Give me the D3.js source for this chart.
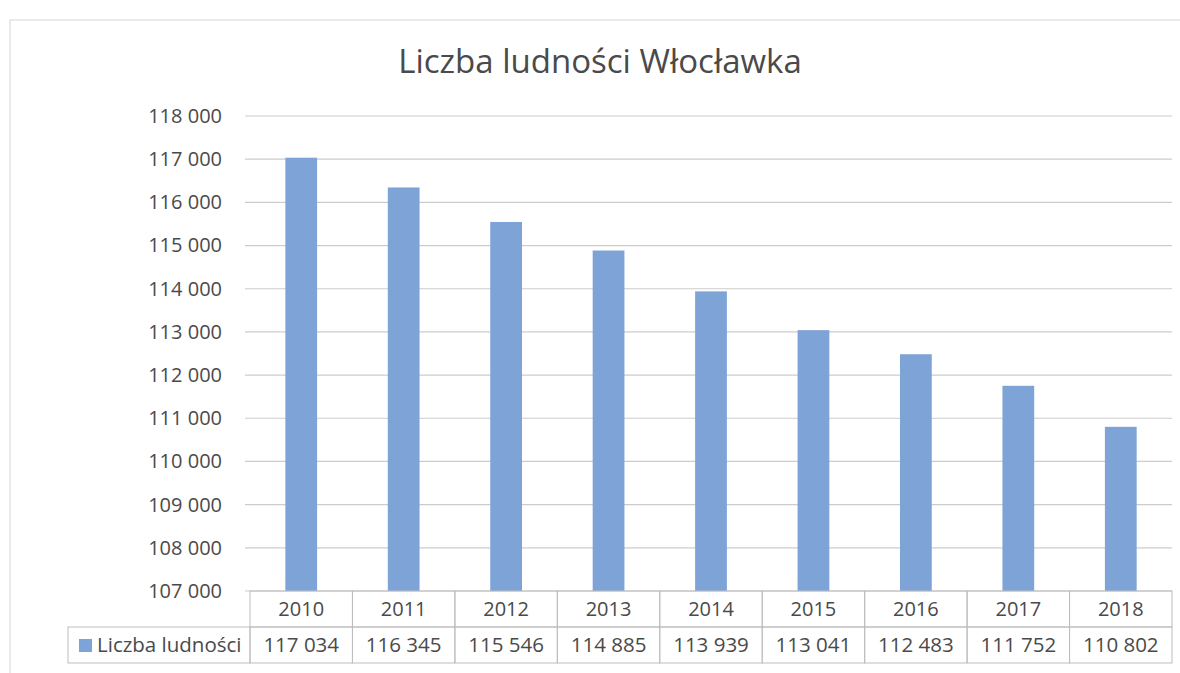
<!DOCTYPE html>
<html>
<head>
<meta charset="utf-8">
<script src="https://cdn.jsdelivr.net/npm/d3@7"></script>
<style>
  body { margin: 0; background: #fff; }
  text { font-family: "Open Sans", "Noto Sans", sans-serif; fill: #4a4a4a; }
</style>
</head>
<body>
<div id="chart"></div>
<script>
const title = "Liczba ludności Włocławka";
const seriesName = "Liczba ludności";
const years = ["2010", "2011", "2012", "2013", "2014", "2015", "2016", "2017", "2018"];
const population = [117034, 116345, 115546, 114885, 113939, 113041, 112483, 111752, 110802];
const yTicks = [107000, 108000, 109000, 110000, 111000, 112000, 113000, 114000, 115000, 116000, 117000, 118000];

const width = 1180, height = 673;
const plot = { left: 250, right: 1172, top: 116, bottom: 591 };
const rowH = 36;
const legendLeft = 68;
const barColor = "#7ea3d6";
const gridColor = "#cccccc";

const fmt = d3.formatLocale({ decimal: ",", thousands: " ", grouping: [3], currency: ["", ""] }).format(",d");

const svg = d3.select("#chart").append("svg")
    .attr("width", width)
    .attr("height", height);

// chart frame
svg.append("rect")
    .attr("x", 10).attr("y", 20)
    .attr("width", 1190).attr("height", 700)
    .attr("fill", "none")
    .attr("stroke", "#d6d6d6");

svg.append("text")
    .attr("x", 600).attr("y", 73)
    .attr("text-anchor", "middle")
    .style("font-size", "33px")
    .text(title);

const x = d3.scaleBand()
    .domain(years)
    .range([plot.left, plot.right])
    .paddingInner(0.69)
    .paddingOuter(0.345);

const y = d3.scaleLinear()
    .domain([107000, 118000])
    .range([plot.bottom, plot.top]);

// gridlines
svg.append("g")
    .selectAll("line")
    .data(yTicks)
    .enter()
    .append("line")
    .attr("x1", plot.left - 5)
    .attr("x2", plot.right)
    .attr("y1", d => y(d))
    .attr("y2", d => y(d))
    .attr("stroke", gridColor)
    .attr("stroke-width", 1.2);

// y axis labels
const yAxis = svg.append("g")
    .attr("transform", `translate(${plot.left - 28},0)`)
    .call(d3.axisLeft(y).tickValues(yTicks).tickFormat(fmt).tickSize(0).tickPadding(0));
yAxis.select(".domain").remove();
yAxis.selectAll("text")
    .style("font-size", "20px")
    .attr("fill", "#4a4a4a");

// bars
svg.append("g")
    .selectAll("rect")
    .data(years)
    .enter()
    .append("rect")
    .attr("x", d => x(d))
    .attr("y", (d, i) => y(population[i]))
    .attr("width", x.bandwidth())
    .attr("height", (d, i) => y(107000) - y(population[i]))
    .attr("fill", barColor);

// data table
const colStep = x.step();
const colLeft = d => x(d) - x.step() * x.paddingInner() / 2;
const table = svg.append("g");
const lineColor = "#bdbdbd";

table.selectAll(".cell-h")
    .data(years)
    .enter()
    .append("rect")
    .attr("x", d => colLeft(d))
    .attr("y", plot.bottom)
    .attr("width", colStep)
    .attr("height", rowH)
    .attr("fill", "none")
    .attr("stroke", lineColor);

table.selectAll(".cell-v")
    .data(years)
    .enter()
    .append("rect")
    .attr("x", d => colLeft(d))
    .attr("y", plot.bottom + rowH)
    .attr("width", colStep)
    .attr("height", rowH)
    .attr("fill", "none")
    .attr("stroke", lineColor);

table.append("rect")
    .attr("x", legendLeft)
    .attr("y", plot.bottom + rowH)
    .attr("width", plot.left - legendLeft)
    .attr("height", rowH)
    .attr("fill", "none")
    .attr("stroke", lineColor);

table.selectAll(".year")
    .data(years)
    .enter()
    .append("text")
    .attr("x", d => x(d) + x.bandwidth() / 2)
    .attr("y", plot.bottom + rowH / 2 + 7)
    .attr("text-anchor", "middle")
    .style("font-size", "20px")
    .text(d => d);

table.selectAll(".val")
    .data(population)
    .enter()
    .append("text")
    .attr("x", (d, i) => x(years[i]) + x.bandwidth() / 2)
    .attr("y", plot.bottom + rowH * 1.5 + 7)
    .attr("text-anchor", "middle")
    .style("font-size", "20.5px")
    .text(d => fmt(d));

table.append("rect")
    .attr("x", legendLeft + 11)
    .attr("y", plot.bottom + rowH * 1.5 - 6)
    .attr("width", 13)
    .attr("height", 13)
    .attr("fill", barColor);

table.append("text")
    .attr("x", legendLeft + 29)
    .attr("y", plot.bottom + rowH * 1.5 + 7)
    .style("font-size", "20.5px")
    .text(seriesName);
</script>
</body>
</html>
